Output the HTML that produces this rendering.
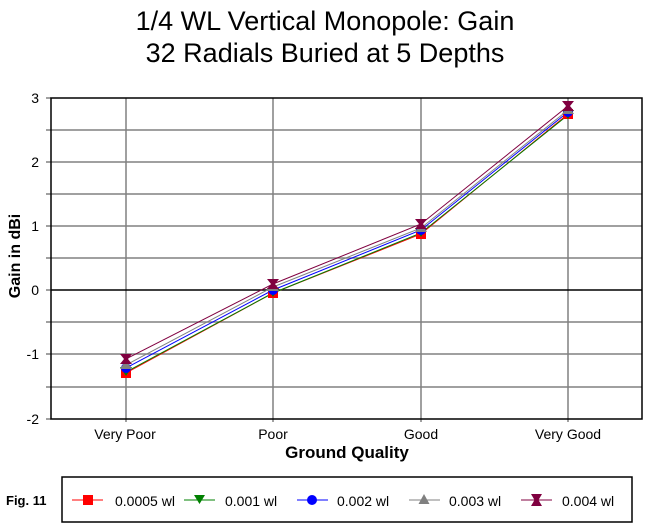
<!DOCTYPE html><html><head><style>body{margin:0;background:#fff;}svg{display:block}</style></head><body>
<svg width="651" height="527" xmlns="http://www.w3.org/2000/svg" font-family="Liberation Sans, Arial, sans-serif">
<rect width="651" height="527" fill="#fff"/>
<text x="325" y="30" font-size="27" text-anchor="middle">1/4 WL Vertical Monopole: Gain</text>
<text x="325" y="62" font-size="27" text-anchor="middle">32 Radials Buried at 5 Depths</text>
<g stroke="#808080" stroke-width="1.5">
<line x1="51" y1="130" x2="642" y2="130"/><line x1="51" y1="162" x2="642" y2="162"/><line x1="51" y1="194" x2="642" y2="194"/><line x1="51" y1="226" x2="642" y2="226"/><line x1="51" y1="258" x2="642" y2="258"/><line x1="51" y1="322" x2="642" y2="322"/><line x1="51" y1="354" x2="642" y2="354"/><line x1="51" y1="387" x2="642" y2="387"/>
<line x1="126" y1="98" x2="126" y2="422"/><line x1="273" y1="98" x2="273" y2="422"/><line x1="421" y1="98" x2="421" y2="422"/><line x1="568" y1="98" x2="568" y2="422"/>
<line x1="46" y1="98" x2="51" y2="98"/><line x1="46" y1="130" x2="51" y2="130"/><line x1="46" y1="162" x2="51" y2="162"/><line x1="46" y1="194" x2="51" y2="194"/><line x1="46" y1="226" x2="51" y2="226"/><line x1="46" y1="258" x2="51" y2="258"/><line x1="46" y1="290" x2="51" y2="290"/><line x1="46" y1="322" x2="51" y2="322"/><line x1="46" y1="354" x2="51" y2="354"/><line x1="46" y1="387" x2="51" y2="387"/><line x1="46" y1="419" x2="51" y2="419"/>
</g>
<line x1="51" y1="290" x2="642" y2="290" stroke="#000" stroke-width="1.5"/>
<rect x="51" y="98" width="591" height="321" fill="none" stroke="#000" stroke-width="1.5"/>
<g font-size="14" text-anchor="end">
<text x="39" y="103">3</text><text x="39" y="167">2</text><text x="39" y="231">1</text><text x="39" y="295">0</text><text x="39" y="359">-1</text><text x="39" y="424">-2</text>
</g>
<g font-size="14" text-anchor="middle">
<text x="125" y="439">Very Poor</text><text x="273" y="439">Poor</text><text x="421" y="439">Good</text><text x="568" y="439">Very Good</text>
</g>
<text x="347" y="458" font-size="17" font-weight="bold" text-anchor="middle">Ground Quality</text>
<text transform="translate(20,256) rotate(-90)" font-size="16" font-weight="bold" text-anchor="middle">Gain in dBi</text>
<g fill="none" stroke-width="1">
<polyline stroke="#f00" points="126,373 273,293 421,234 568,114"/>
<polyline stroke="#008000" points="126,372 273,293 421,233 568,115"/>
<polyline stroke="#00f" points="126,368 273,290 421,230 568,112"/>
<polyline stroke="#808080" points="126,365 273,287 421,228 568,110"/>
<polyline stroke="#800040" points="126,359 273,284 421,224 568,106"/>
</g>
<g>
<rect x="121" y="368" width="10" height="10" fill="#f00"/><rect x="268" y="288" width="10" height="10" fill="#f00"/><rect x="416" y="229" width="10" height="10" fill="#f00"/><rect x="563" y="109" width="10" height="10" fill="#f00"/>
<path d="M120,367h12l-6,9z M267,288h12l-6,9z M415,228h12l-6,9z M562,110h12l-6,9z" fill="#008000"/>
<circle cx="126" cy="368" r="5" fill="#00f"/><circle cx="273" cy="290" r="5" fill="#00f"/><circle cx="421" cy="230" r="5" fill="#00f"/><circle cx="568" cy="112" r="5" fill="#00f"/>
<path d="M126,360l6,9h-12z M273,282l6,9h-12z M421,223l6,9h-12z M568,105l6,9h-12z" fill="#808080"/>
<path d="M120,354h12l-4,5 4,5h-12l4,-5z M267,279h12l-4,5 4,5h-12l4,-5z M415,219h12l-4,5 4,5h-12l4,-5z M562,101h12l-4,5 4,5h-12l4,-5z" fill="#800040"/>
</g>
<text x="6" y="505" font-size="13" font-weight="bold">Fig. 11</text>
<rect x="62" y="477" width="570" height="45" fill="none" stroke="#000" stroke-width="1.5"/>
<g font-size="14">
<line x1="72" y1="500" x2="103" y2="500" stroke="#f00"/><rect x="83" y="495" width="10" height="10" fill="#f00"/><text x="115" y="506">0.0005 wl</text>
<line x1="184" y1="500" x2="215" y2="500" stroke="#008000"/><path d="M194,495h11l-5.5,9z" fill="#008000"/><text x="225" y="506">0.001 wl</text>
<line x1="297" y1="500" x2="328" y2="500" stroke="#00f"/><circle cx="312" cy="500" r="5" fill="#00f"/><text x="337" y="506">0.002 wl</text>
<line x1="409" y1="500" x2="440" y2="500" stroke="#808080"/><path d="M424,494l5.5,10h-11z" fill="#808080"/><text x="449" y="506">0.003 wl</text>
<line x1="521" y1="500" x2="552" y2="500" stroke="#800040"/><path d="M531,494h11l-3.5,6 3.5,6h-11l3.5,-6z" fill="#800040"/><text x="562" y="506">0.004 wl</text>
</g>
</svg></body></html>
